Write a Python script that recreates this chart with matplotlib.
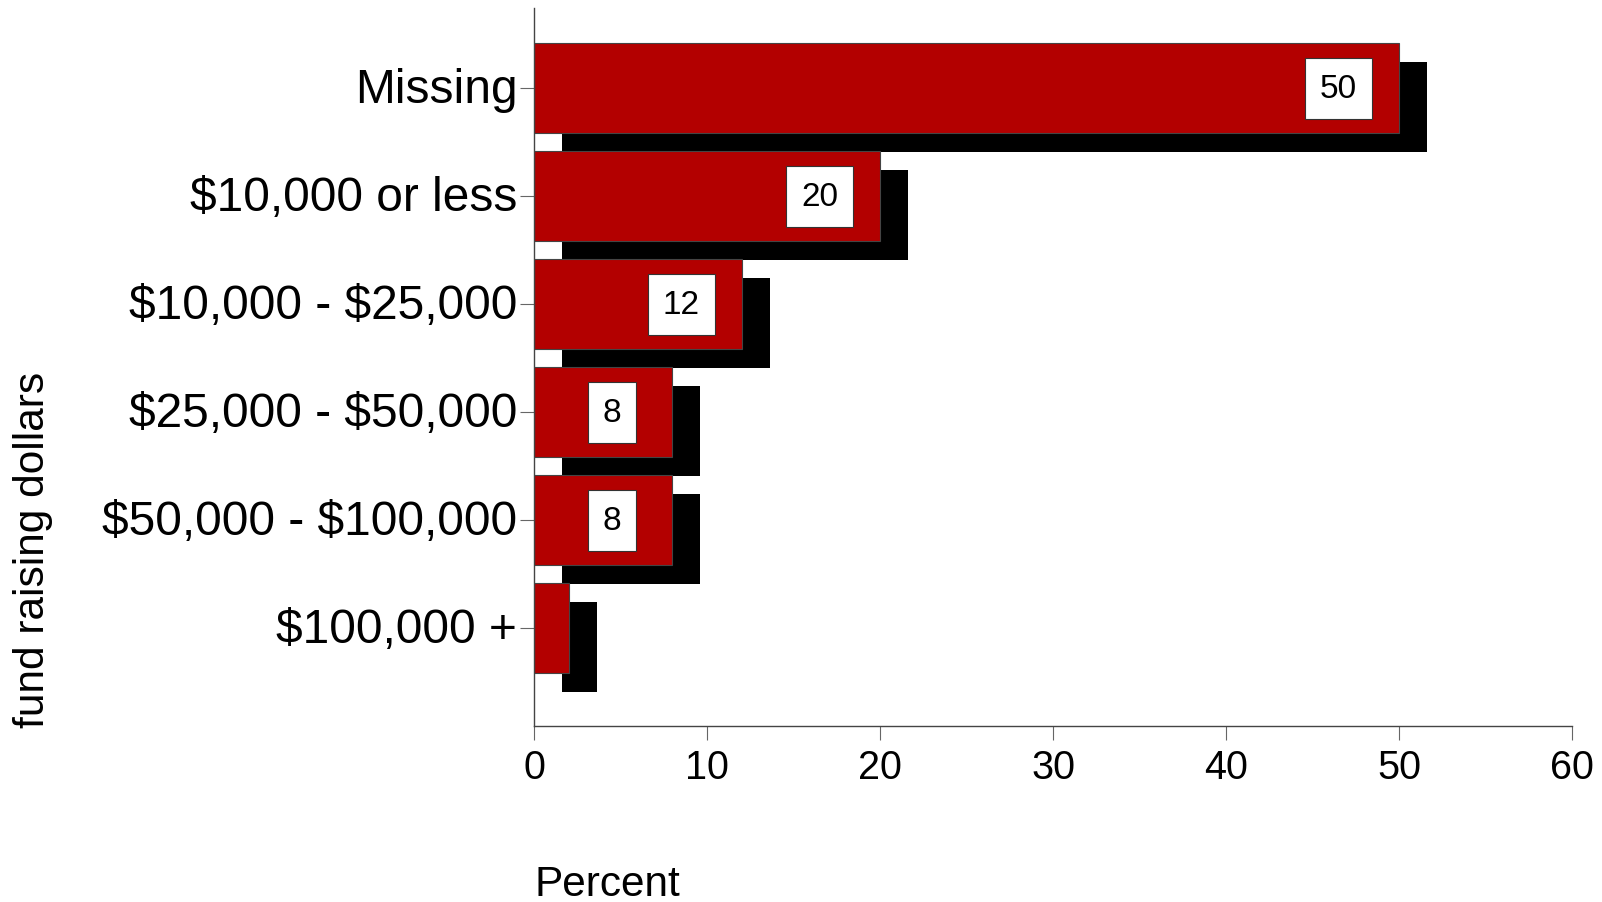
import matplotlib
matplotlib.use("Agg")
import matplotlib.pyplot as plt
import matplotlib.transforms as mtransforms

categories = ["Missing", "$10,000 or less", "$10,000 - $25,000",
              "$25,000 - $50,000", "$50,000 - $100,000", "$100,000 +"]
percent = [50, 20, 12, 8, 8, 2]
labels = ["50", "20", "12", "8", "8", ""]

plt.rcParams['font.family'] = ['Liberation Sans', 'DejaVu Sans']
plt.rcParams['text.parse_math'] = False

fig = plt.figure(figsize=(16.02, 9.03), dpi=100)
ax = fig.add_axes([534/1602, 1-727/903, 1038/1602, 718/903])

ypos = list(range(len(categories)))
shadow_tr = ax.transData + mtransforms.ScaledTranslation(28/100, -19/100, fig.dpi_scale_trans)
ax.barh(ypos, percent, height=0.833, color='black', edgecolor='none',
        transform=shadow_tr, zorder=1)
ax.barh(ypos, percent, height=0.833, color='#b30000', edgecolor='#444444',
        linewidth=0.8, zorder=2)

for y, v, lab in zip(ypos, percent, labels):
    if lab:
        ax.text(v - 3.5, y, lab, ha='center', va='center', fontsize=24, zorder=3,
                bbox=dict(boxstyle='square,pad=0.45', facecolor='white',
                          edgecolor='#333333', linewidth=0.8))

ax.set_xlim(0, 60)
ax.set_ylim(5.907, -0.741)
ax.set_yticks(ypos)
ax.set_yticklabels(categories, fontsize=34.5)
ax.set_xticks([0, 10, 20, 30, 40, 50, 60])
ax.tick_params(axis='x', labelsize=28.5, length=10, color='#666666', pad=6)
ax.tick_params(axis='y', length=10, color='#666666', pad=2)

up = mtransforms.ScaledTranslation(0, 4/100, fig.dpi_scale_trans)
for lbl in ax.get_yticklabels():
    lbl.set_transform(lbl.get_transform() + up)

for s in ['top', 'right']:
    ax.spines[s].set_visible(False)
for s in ['left', 'bottom']:
    ax.spines[s].set_color('#444444')
    ax.spines[s].set_linewidth(1.0)

ax.set_xlabel("Percent", fontsize=30.5)
ax.xaxis.label.set_ha('left')
ax.xaxis.label.set_va('center')
ax.xaxis.set_label_coords(0.0, -0.22)

ax.set_ylabel("fund raising dollars", fontsize=30.5)
ax.yaxis.label.set_va('center')
ax.yaxis.label.set_ha('center')
ax.yaxis.set_label_coords(-0.483, 0.246)

fig.savefig("out.png", dpi=100)
